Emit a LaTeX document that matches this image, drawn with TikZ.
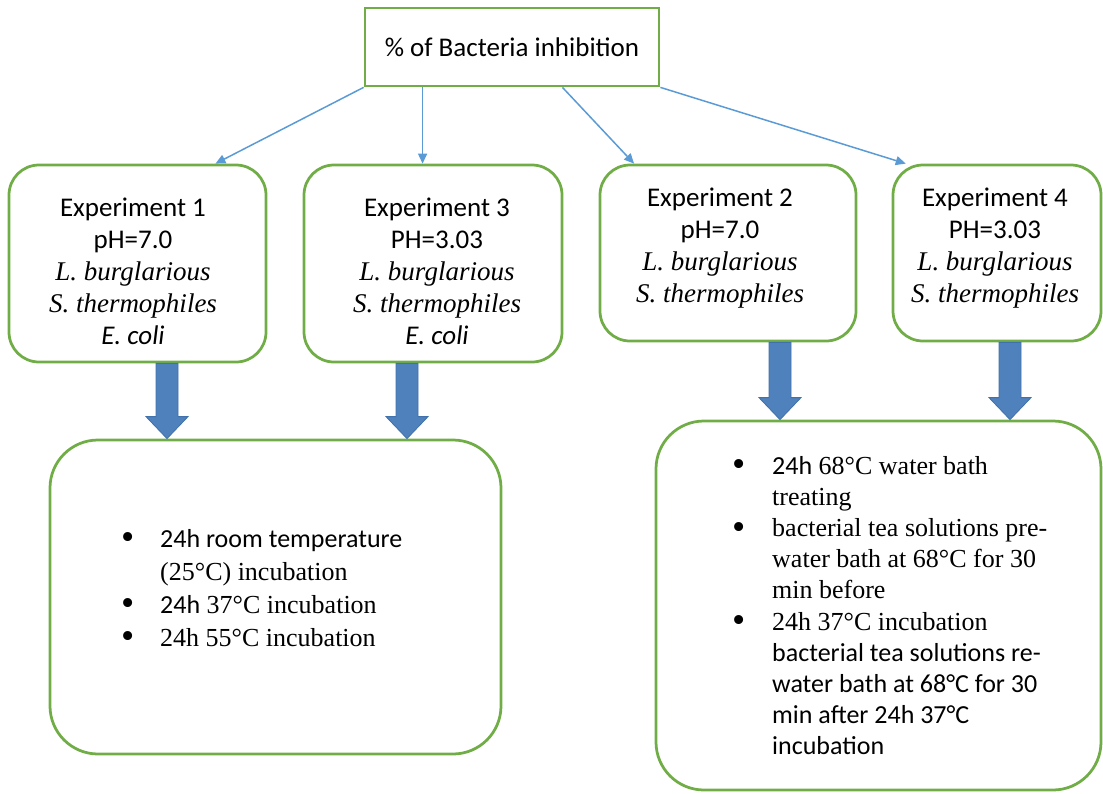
\documentclass[tikz,border=0pt]{standalone}
\usepackage{fontspec}
\setmainfont{Liberation Serif}
\newfontfamily\calfont{Carlito}
\usetikzlibrary{arrows.meta,calc}
\definecolor{boxgreen}{RGB}{112,173,71}
\definecolor{linkblue}{RGB}{91,155,213}
\definecolor{fatblue}{RGB}{79,129,189}
\definecolor{fatedge}{RGB}{65,113,170}
\tikzset{
  sheet/.style={x=1pt,y=-1pt},
  titlebox/.style={
    draw=boxgreen,
    line width=2.75pt,
    minimum width=294pt,
    minimum height=78pt,
    inner sep=0pt,
    font=\calfont\fontsize{27}{32}\selectfont
  },
  expbox/.style={draw=boxgreen, line width=2.75pt, rounded corners=30pt, inner sep=0pt},
  stepsbox/.style={draw=boxgreen, line width=2.75pt, rounded corners=48pt, inner sep=0pt},
  exptext/.style={anchor=base, inner sep=0pt, font=\fontsize{27}{32}\selectfont},
  roomtext/.style={anchor=base west, inner sep=0pt, font=\fontsize{26}{33}\selectfont},
  bathtext/.style={anchor=base west, inner sep=0pt, font=\fontsize{26}{31.2}\selectfont},
  link/.style={draw=linkblue, line width=1.5pt, -{Triangle[length=10pt,width=9pt]}},
  fat/.style={fill=fatblue, draw=fatedge, line width=0.8pt}
}
\newcommand{\bul}{\smash{\raisebox{-2.6pt}{\scalebox{1.45}{\textbullet}}}}
% thick block arrow from the bottom of #1 to the top of #2, at x=#3
\newcommand{\fatarrow}[3]{%
  \coordinate (fa) at (#3,0);
  \filldraw[fat] ($(fa |- #1.south)+(-11,0)$) -- ($(fa |- #2.north)+(-11,-22)$)
    -- ($(fa |- #2.north)+(-21,-22)$) -- (fa |- #2.north)
    -- ($(fa |- #2.north)+(21,-22)$) -- ($(fa |- #2.north)+(11,-22)$)
    -- ($(fa |- #1.south)+(11,0)$) -- cycle;
}

\begin{document}
\begin{tikzpicture}[sheet]
  \useasboundingbox (0,0) rectangle (1103,793);
  \node[titlebox] (top) at (512,47) {\% of Bacteria inhibition};
  \node[expbox, minimum width=257pt, minimum height=197pt] (exp1) at (137.5,263.5) {};
  \node[expbox, minimum width=258pt, minimum height=197pt] (exp3) at (433,263.5) {};
  \node[expbox, minimum width=256pt, minimum height=176pt] (exp2) at (728,253) {};
  \node[expbox, minimum width=208pt, minimum height=176pt] (exp4) at (997,253) {};
  \node[stepsbox, minimum width=451pt, minimum height=314pt] (room) at (275.5,597) {};
  \node[stepsbox, minimum width=445pt, minimum height=369pt] (bath) at (878.5,605.5) {};

  \node[exptext] (exp1txt) at (133,216) {\begin{tabular}[t]{@{}c@{}}
    {\calfont Experiment 1}\\ {\calfont pH=7.0}\\ \textit{L. burglarious}\\
    \textit{S. thermophiles}\\ {\calfont\itshape E. coli}\end{tabular}};
  \node[exptext] (exp3txt) at (437,216) {\begin{tabular}[t]{@{}c@{}}
    {\calfont Experiment 3}\\ {\calfont PH=3.03}\\ \textit{L. burglarious}\\
    \textit{S. thermophiles}\\ {\calfont\itshape E. coli}\end{tabular}};
  \node[exptext] (exp2txt) at (720,206) {\begin{tabular}[t]{@{}c@{}}
    {\calfont Experiment 2}\\ {\calfont pH=7.0}\\ \textit{L. burglarious}\\
    \textit{S. thermophiles}\end{tabular}};
  \node[exptext] (exp4txt) at (995,206) {\begin{tabular}[t]{@{}c@{}}
    {\calfont Experiment 4}\\ {\calfont PH=3.03}\\ \textit{L. burglarious}\\
    \textit{S. thermophiles}\end{tabular}};

  \node[roomtext] (roomtxt) at (121,547) {\begin{tabular}[t]{@{}p{39pt}@{}l@{}}
    \bul & {\calfont 24h room temperature}\\
         & (25°C) incubation\\
    \bul & {\calfont 24h} 37°C incubation\\
    \bul & 24h 55°C incubation\end{tabular}};
  \node[bathtext] (bathtxt) at (732,474) {\begin{tabular}[t]{@{}p{40pt}@{}l@{}}
    \bul & {\calfont 24h} 68°C water bath\\
         & treating\\
    \bul & bacterial tea solutions pre-\\
         & water bath at 68°C for 30\\
         & min before\\
    \bul & 24h 37°C incubation\\
         & {\calfont bacterial tea solutions re-}\\
         & {\calfont water bath at 68°C for 30}\\
         & {\calfont min after 24h 37°C}\\
         & {\calfont incubation}\end{tabular}};

  % thin links from the title
  \coordinate (in1) at ($(exp1.north west)!0.8!(exp1.north east)$);
  \coordinate (in3) at ($(exp3.north west)!0.46!(exp3.north east)$);
  \coordinate (out2) at ($(top.south west)!0.67!(top.south east)$);
  \coordinate (in2) at ($(exp2.north west)!0.137!(exp2.north east)$);
  \coordinate (in4) at ($(exp4.north west)!0.067!(exp4.north east)$);
  \draw[link] (top.south west) -- (in1);
  \draw[link] (top.south -| in3) -- (in3);
  \draw[link] (out2) -- (in2);
  \draw[link] (top.south east) -- (in4);

  % block arrows
  \fatarrow{exp1}{room}{167}
  \fatarrow{exp3}{room}{407}
  \fatarrow{exp2}{bath}{780}
  \fatarrow{exp4}{bath}{1010}
\end{tikzpicture}
\end{document}
